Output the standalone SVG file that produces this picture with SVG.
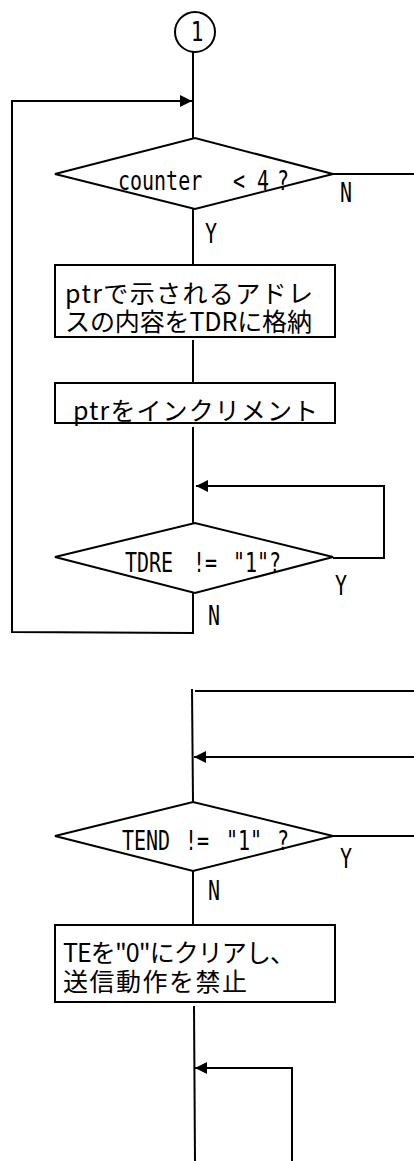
<svg xmlns="http://www.w3.org/2000/svg" width="414" height="1161" viewBox="0 0 414 1161">
  <style>
    .shape { fill: #ffffff; stroke: #000000; stroke-width: 2; }
    .wire { fill: none; stroke: #000000; stroke-width: 2; }
    /* condensed monospace labels: 27px DejaVu Sans Mono squeezed to 74% width (12px per cell) */
    .lbl { font-family: "DejaVu Sans Mono", "Liberation Mono", monospace; font-size: 27px; fill: #000000; }
    .jp { font-family: "Noto Sans CJK JP", "Noto Sans CJK SC", sans-serif; font-size: 25px; fill: #000000; }
  </style>
  <defs>
    <marker id="arrow" markerUnits="userSpaceOnUse" markerWidth="13" markerHeight="13" refX="12" refY="6" orient="auto">
      <path d="M0,0 L12,6 L0,12 z" fill="#000000"/>
    </marker>
  </defs>

  <rect width="414" height="1161" fill="#ffffff"/>

  <!-- connectors -->
  <g id="connectors">
    <!-- connector 1 down to the counter test -->
    <path class="wire" d="M193,52 L193,138"/>
    <!-- N exit of the counter test -->
    <path class="wire" d="M333,174 L414,174"/>
    <!-- Y branch to the first process -->
    <path class="wire" d="M193,209 L193,265"/>
    <path class="wire" d="M193,340 L193,383"/>
    <path class="wire" d="M193,427 L193,523"/>
    <!-- TDRE wait loop -->
    <path class="wire" d="M333,558 L384,558 L384,486 L196,486" marker-end="url(#arrow)"/>
    <!-- loop back to the counter test -->
    <path class="wire" d="M193,593 L193,633 L12,632 L12,101 L192,101" marker-end="url(#arrow)"/>

    <!-- lower section -->
    <path class="wire" d="M192,689 L193,802"/>
    <path class="wire" d="M195,691 L414,691"/>
    <path class="wire" d="M414,757 L194,757" marker-end="url(#arrow)"/>
    <path class="wire" d="M333,836 L414,836"/>
    <path class="wire" d="M193,871 L193,925"/>
    <path class="wire" d="M194,1006 L195,1161"/>
    <path class="wire" d="M292,1161 L292,1068 L195,1068" marker-end="url(#arrow)"/>
  </g>

  <!-- connector symbol 1 -->
  <g id="node-start">
    <circle class="shape" cx="195" cy="32" r="20"/>
    <text class="lbl" transform="translate(197,41) scale(0.78,1)" text-anchor="middle" font-size="23">1</text>
  </g>

  <!-- counter < 4 ? -->
  <g id="node-counter-test">
    <polygon class="shape" points="55,174 195,138 333,174 195,209"/>
    <text class="lbl" transform="translate(118,190) scale(0.74,1)">counter</text>
    <text class="lbl" transform="translate(233,190) scale(0.74,1)">&lt;</text>
    <text class="lbl" transform="translate(257,190) scale(0.74,1)">4</text>
    <text class="lbl" transform="translate(277,190) scale(0.74,1)">?</text>
    <text class="lbl" transform="translate(340,202) scale(0.74,1)">N</text>
    <text class="lbl" transform="translate(205,243) scale(0.74,1)">Y</text>
  </g>

  <!-- store data at ptr into TDR -->
  <g id="node-store-tdr">
    <rect class="shape" x="55" y="265" width="280" height="72"/>
    <text class="jp" x="65" y="303" textLength="248" lengthAdjust="spacing">ptrで示されるアドレ</text>
    <text class="jp" x="65" y="331" textLength="247" lengthAdjust="spacing">スの内容をTDRに格納</text>
  </g>

  <!-- increment ptr -->
  <g id="node-increment">
    <rect class="shape" x="55" y="383" width="280" height="40"/>
    <text class="jp" x="73" y="420" textLength="245" lengthAdjust="spacing">ptrをインクリメント</text>
  </g>

  <!-- TDRE != "1" ? -->
  <g id="node-tdre-test">
    <polygon class="shape" points="55,557 195,523 333,557 195,593"/>
    <text class="lbl" transform="translate(125,572) scale(0.74,1)">TDRE</text>
    <text class="lbl" transform="translate(193,572) scale(0.74,1)">!=</text>
    <text class="lbl" transform="translate(233,572) scale(0.74,1)">"1"?</text>
    <text class="lbl" transform="translate(335,595) scale(0.74,1)">Y</text>
    <text class="lbl" transform="translate(208,625) scale(0.74,1)">N</text>
  </g>

  <!-- TEND != "1" ? -->
  <g id="node-tend-test">
    <polygon class="shape" points="55,836 193,802 333,836 193,871"/>
    <text class="lbl" transform="translate(122,850) scale(0.74,1)">TEND</text>
    <text class="lbl" transform="translate(185,850) scale(0.74,1)">!=</text>
    <text class="lbl" transform="translate(226,850) scale(0.74,1)">"1"</text>
    <text class="lbl" transform="translate(277,850) scale(0.74,1)">?</text>
    <text class="lbl" transform="translate(340,868) scale(0.74,1)">Y</text>
    <text class="lbl" transform="translate(208,900) scale(0.74,1)">N</text>
  </g>

  <!-- clear TE, disable transmission -->
  <g id="node-clear-te">
    <rect class="shape" x="55" y="925" width="280" height="77"/>
    <text class="jp" x="63" y="962" textLength="232" lengthAdjust="spacing">TEを"0"にクリアし、</text>
    <text class="jp" x="63" y="991" textLength="184" lengthAdjust="spacing">送信動作を禁止</text>
  </g>
</svg>
